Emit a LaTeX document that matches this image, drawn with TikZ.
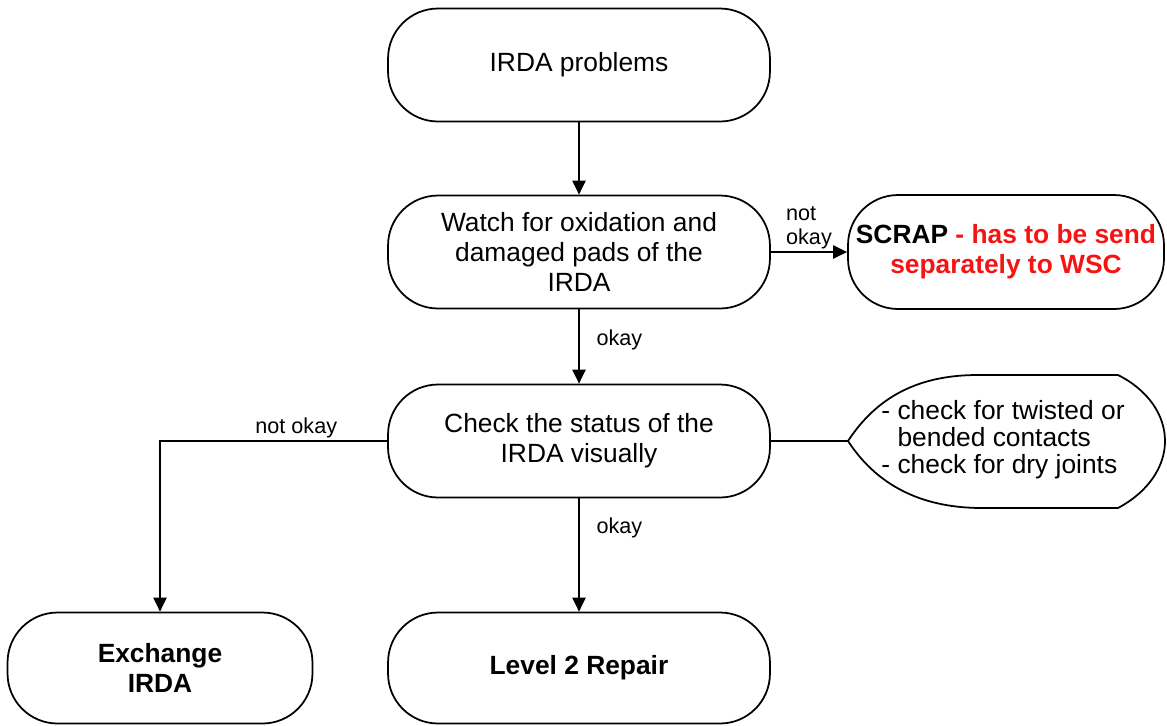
\documentclass[tikz,border=0pt]{standalone}
\usepackage{fontspec}
\setmainfont{Liberation Sans}
\usepackage{xcolor}
\usetikzlibrary{arrows.meta}
\definecolor{scrapred}{RGB}{245,20,20}
\tikzstyle{procbox} = [draw, line width=1pt, rounded corners=1cm, minimum width=7.64cm, minimum height=2.26cm, align=center, inner sep=2pt, font=\fontsize{15}{17}\selectfont]
\tikzstyle{arrow} = [line width=1pt, -{Triangle[length=8pt,width=7.5pt]}]
\tikzstyle{lbl} = [font=\fontsize{12.3}{13.5}\selectfont, inner sep=1.5pt]

\begin{document}
\begin{tikzpicture}[x=0.02cm, y=-0.02cm]
	\useasboundingbox (0,0) rectangle (1167,725);

	\node[procbox] (start) at (579,65) {IRDA problems};
	\node[procbox] (watch) at (579,252) {Watch for oxidation and\\damaged pads of the\\IRDA};
	\node[procbox, minimum width=6.32cm, minimum height=2.28cm] (scrap) at (1006,252)
		{\textbf{SCRAP} \textcolor{scrapred}{\textbf{- has to be send}}\\\textcolor{scrapred}{\textbf{separately to WSC}}};
	\node[procbox] (check) at (579,441) {Check the status of the\\IRDA visually};
	\node[procbox, minimum width=6.1cm, minimum height=2.22cm] (exch) at (160,668) {\textbf{Exchange}\\\textbf{IRDA}};
	\node[procbox, minimum height=2.22cm] (repair) at (579,668) {\textbf{Level 2 Repair}};

	% remark shape
	\draw[line width=1pt] (848,441) .. controls (880,392) and (925,375) .. (978,375) -- (1118,375)
		.. controls (1148,390) and (1165,415) .. (1165,441)
		.. controls (1165,467) and (1148,492) .. (1118,508) -- (982,508)
		.. controls (928,508) and (880,490) .. (848,441);
	\coordinate (notetip) at (848,441);
	\node[align=left, inner sep=0pt, font=\fontsize{15}{15.4}\selectfont] (note) at (1003,440)
		{- check for twisted or\\\hphantom{- }bended contacts\\- check for dry joints};

	\draw[arrow] (start) -- (watch);
	\draw[arrow] (watch.east) -- node[lbl, above, align=left] {not\\okay} (scrap.west);
	\draw[arrow] (watch) -- node[lbl, right=8pt, pos=0.41] {okay} (check);
	\draw[arrow] (check) -- node[lbl, right=8pt, pos=0.26] {okay} (repair);
	\draw[arrow] (check.west) -| node[lbl, above, pos=0.2] {not okay} (exch.north);
	\draw[line width=1pt] (check.east) -- (notetip);

\end{tikzpicture}
\end{document}
